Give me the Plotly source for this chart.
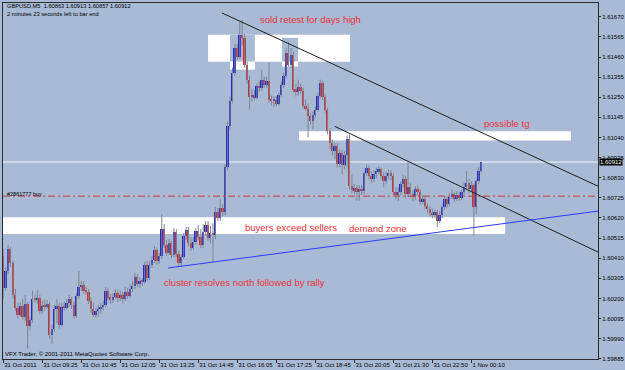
import plotly.graph_objects as go

# ---------------- data (GBPUSD M5, 31 Oct 2011) ----------------
first_open = 1.60422
closes = [
    1.60255, 1.60344, 1.60458, 1.60385, 1.60219, 1.60151, 1.60115, 1.60162, 1.60104, 1.60172,
    1.60058, 1.60089, 1.60198, 1.60193, 1.60203, 1.60136, 1.60162, 1.60156, 1.60172, 1.60011,
    1.60042, 1.60146, 1.60162, 1.60063, 1.60156, 1.60151, 1.60177, 1.60198, 1.60167, 1.60110,
    1.60214, 1.60260, 1.60271, 1.60240, 1.60234, 1.60188, 1.60146, 1.60115, 1.60136, 1.60146,
    1.60156, 1.60167, 1.60240, 1.60203, 1.60193, 1.60208, 1.60229, 1.60203, 1.60219, 1.60198,
    1.60234, 1.60214, 1.60250, 1.60266, 1.60312, 1.60276, 1.60292, 1.60286, 1.60375, 1.60307,
    1.60375, 1.60401, 1.60453, 1.60396, 1.60422, 1.60562, 1.60479, 1.60437, 1.60489, 1.60427,
    1.60546, 1.60432, 1.60385, 1.60416, 1.60526, 1.60557, 1.60489, 1.60463, 1.60494, 1.60552,
    1.60520, 1.60479, 1.60546, 1.60583, 1.60515, 1.60541, 1.60531, 1.60650, 1.60619, 1.60671,
    1.60650, 1.60884, 1.61098, 1.61233, 1.61378, 1.61508, 1.61462, 1.61576, 1.61560, 1.61420,
    1.61342, 1.61254, 1.61264, 1.61248, 1.61311, 1.61300, 1.61342, 1.61316, 1.61337, 1.61238,
    1.61233, 1.61238, 1.61217, 1.61264, 1.61316, 1.61363, 1.61482, 1.61420, 1.61472, 1.61290,
    1.61280, 1.61306, 1.61285, 1.61207, 1.61191, 1.61150, 1.61124, 1.61160, 1.61186, 1.61259,
    1.61326, 1.61254, 1.61181, 1.61072, 1.61009, 1.60968, 1.60994, 1.60900, 1.60957, 1.60895,
    1.60947, 1.61030, 1.60786, 1.60765, 1.60775, 1.60754, 1.60770, 1.60760, 1.60853, 1.60879,
    1.60838, 1.60822, 1.60848, 1.60864, 1.60874, 1.60838, 1.60812, 1.60838, 1.60853, 1.60838,
    1.60754, 1.60739, 1.60754, 1.60796, 1.60822, 1.60744, 1.60780, 1.60744, 1.60728, 1.60770,
    1.60754, 1.60702, 1.60718, 1.60682, 1.60666, 1.60645, 1.60635, 1.60650, 1.60604, 1.60635,
    1.60676, 1.60718, 1.60692, 1.60728, 1.60744, 1.60718, 1.60739, 1.60723, 1.60754, 1.60780,
    1.60801, 1.60770, 1.60791, 1.60676, 1.60812, 1.60863, 1.60912,
]
highs = [
    1.60458, 1.60364, 1.60479, 1.60468, 1.60396, 1.60250, 1.60177, 1.60182, 1.60198, 1.60219,
    1.60182, 1.60104, 1.60240, 1.60219, 1.60245, 1.60219, 1.60188, 1.60198, 1.60193, 1.60182,
    1.60063, 1.60167, 1.60198, 1.60177, 1.60177, 1.60182, 1.60198, 1.60219, 1.60208, 1.60182,
    1.60229, 1.60344, 1.60292, 1.60292, 1.60260, 1.60250, 1.60203, 1.60177, 1.60151, 1.60167,
    1.60177, 1.60188, 1.60260, 1.60255, 1.60224, 1.60229, 1.60250, 1.60245, 1.60240, 1.60234,
    1.60260, 1.60255, 1.60276, 1.60292, 1.60333, 1.60328, 1.60312, 1.60307, 1.60390, 1.60396,
    1.60396, 1.60422, 1.60474, 1.60468, 1.60437, 1.60640, 1.60588, 1.60505, 1.60510, 1.60500,
    1.60567, 1.60562, 1.60448, 1.60432, 1.60541, 1.60572, 1.60572, 1.60520, 1.60520, 1.60567,
    1.60583, 1.60562, 1.60588, 1.60604, 1.60604, 1.60578, 1.60593, 1.60676, 1.60671, 1.60718,
    1.60692, 1.60900, 1.61124, 1.61254, 1.61404, 1.61529, 1.61529, 1.61644, 1.61654, 1.61581,
    1.61436, 1.61363, 1.61290, 1.61290, 1.61321, 1.61332, 1.61394, 1.61358, 1.61358, 1.61430,
    1.61259, 1.61254, 1.61254, 1.61274, 1.61332, 1.61378, 1.61508, 1.61540, 1.61508, 1.61488,
    1.61321, 1.61342, 1.61321, 1.61300, 1.61238, 1.61217, 1.61170, 1.61176, 1.61202, 1.61274,
    1.61342, 1.61337, 1.61269, 1.61196, 1.61087, 1.61030, 1.61014, 1.61009, 1.60978, 1.60973,
    1.60968, 1.61051, 1.61056, 1.60848, 1.60796, 1.60791, 1.60791, 1.60791, 1.60864, 1.60900,
    1.60895, 1.60864, 1.60869, 1.60884, 1.60890, 1.60884, 1.60858, 1.60864, 1.60874, 1.60869,
    1.60853, 1.60780, 1.60780, 1.60812, 1.60843, 1.60838, 1.60910, 1.60801, 1.60765, 1.60786,
    1.60791, 1.60770, 1.60739, 1.60734, 1.60697, 1.60682, 1.60666, 1.60666, 1.60661, 1.60656,
    1.60692, 1.60734, 1.60734, 1.60749, 1.60770, 1.60754, 1.60760, 1.60760, 1.60770, 1.60806,
    1.60864, 1.60822, 1.60812, 1.60801, 1.60822, 1.60884, 1.60913,
]
lows = [
    1.60198, 1.60240, 1.60328, 1.60364, 1.60198, 1.60136, 1.60094, 1.60104, 1.60089, 1.60084,
    1.59938, 1.60032, 1.60073, 1.60177, 1.60172, 1.60115, 1.60120, 1.60136, 1.60146, 1.59990,
    1.59964, 1.60026, 1.60068, 1.60042, 1.60052, 1.60136, 1.60141, 1.60156, 1.60146, 1.60094,
    1.60099, 1.60198, 1.60240, 1.60224, 1.60219, 1.60172, 1.60125, 1.60104, 1.60099, 1.60104,
    1.60120, 1.60136, 1.60156, 1.60188, 1.60172, 1.60177, 1.60198, 1.60182, 1.60188, 1.60172,
    1.60188, 1.60198, 1.60203, 1.60234, 1.60250, 1.60260, 1.60255, 1.60266, 1.60276, 1.60292,
    1.60297, 1.60359, 1.60385, 1.60375, 1.60380, 1.60406, 1.60463, 1.60422, 1.60427, 1.60411,
    1.60416, 1.60416, 1.60370, 1.60364, 1.60406, 1.60505, 1.60474, 1.60448, 1.60453, 1.60479,
    1.60505, 1.60463, 1.60463, 1.60526, 1.60500, 1.60489, 1.60390, 1.60510, 1.60604, 1.60604,
    1.60630, 1.60635, 1.60869, 1.61077, 1.61217, 1.61363, 1.61446, 1.61451, 1.61519, 1.61404,
    1.61321, 1.61186, 1.61228, 1.61233, 1.61238, 1.61280, 1.61285, 1.61300, 1.61300, 1.61222,
    1.61207, 1.61202, 1.61202, 1.61207, 1.61254, 1.61300, 1.61352, 1.61410, 1.61404, 1.61274,
    1.61254, 1.61259, 1.61269, 1.61191, 1.61181, 1.61040, 1.61108, 1.61082, 1.61144, 1.61176,
    1.61248, 1.61238, 1.61170, 1.61056, 1.60978, 1.60947, 1.60926, 1.60884, 1.60884, 1.60848,
    1.60874, 1.60884, 1.60770, 1.60749, 1.60744, 1.60708, 1.60708, 1.60739, 1.60744, 1.60838,
    1.60822, 1.60801, 1.60806, 1.60827, 1.60848, 1.60822, 1.60780, 1.60796, 1.60822, 1.60817,
    1.60739, 1.60718, 1.60708, 1.60739, 1.60780, 1.60723, 1.60728, 1.60728, 1.60708, 1.60713,
    1.60739, 1.60687, 1.60692, 1.60666, 1.60645, 1.60630, 1.60619, 1.60619, 1.60572, 1.60593,
    1.60619, 1.60661, 1.60676, 1.60682, 1.60718, 1.60702, 1.60708, 1.60708, 1.60713, 1.60739,
    1.60765, 1.60749, 1.60754, 1.60526, 1.60640, 1.60796, 1.60857,
]
opens = [first_open] + closes[:-1]
bars = list(range(len(closes)))

x_tick_bars = [0, 16, 32, 48, 64, 80, 96, 112, 128, 144, 160, 176, 192]
x_tick_labels = ["31 Oct 2011", "31 Oct 09:25", "31 Oct 10:45", "31 Oct 12:05", "31 Oct 13:25",
                 "31 Oct 14:45", "31 Oct 16:05", "31 Oct 17:25", "31 Oct 18:45", "31 Oct 20:05",
                 "31 Oct 21:30", "31 Oct 22:50", "1 Nov 00:10"]
y_tick_vals = [1.61670, 1.61565, 1.61460, 1.61355, 1.61250, 1.61145, 1.61040, 1.60935, 1.60830,
               1.60725, 1.60620, 1.60515, 1.60410, 1.60305, 1.60200, 1.60095, 1.59990, 1.59885]

bid_price = 1.60912
buy_price = 1.60734
header = "GBPUSD,M5  1.60863 1.60913 1.60857 1.60912"

# ---------------- style ----------------
BG = "#A8BAD4"
BULL = "#2828C8"
BEAR = "#C83232"
WICK = "#7D8594"
TXT_RED = "#E8323C"
FONT = "Liberation Sans"

W, H = 625, 370
ML, MR, MT, MB = 3, 27, 3, 11
PW, PH = W - ML - MR, H - MT - MB


def px(x):
    return (x - ML) / PW


def py(y):
    return (H - MB - y) / PH


fig = go.Figure()

# wicks
wx, wy = [], []
for i, lo, hi in zip(bars, lows, highs):
    wx += [i, i, None]
    wy += [lo, hi, None]
fig.add_trace(go.Scatter(x=wx, y=wy, mode="lines", line=dict(color=WICK, width=1),
                         hoverinfo="skip", showlegend=False))

# bodies
fig.add_trace(go.Bar(
    x=bars, y=[c - o for o, c in zip(opens, closes)], base=opens, width=0.75,
    marker=dict(color=[BULL if c >= o else BEAR for o, c in zip(opens, closes)], line=dict(width=0)),
    showlegend=False, hoverinfo="skip"))

shapes = []


def rect(x0, x1, y0, y1, color):
    shapes.append(dict(type="rect", xref="x", yref="y", x0=x0, x1=x1, y0=y0, y1=y1,
                       fillcolor=color, line=dict(width=0), layer="below"))


# zones (overlaps of two rectangles show background, as in MetaTrader)
rect(84.0, 142.2, 1.61436, 1.61576, "white")
rect(93.0, 103.2, 1.61436, 1.61576, BG)
rect(93.0, 103.2, 1.61394, 1.61436, "white")
rect(114.3, 120.9, 1.61436, 1.61560, BG)
rect(114.3, 120.9, 1.61410, 1.61436, "white")
rect(121.3, 232.8, 1.61025, 1.61072, "white")
rect(-0.1, 205.8, 1.60536, 1.60624, "white")

# horizontal lines
shapes.append(dict(type="line", xref="paper", yref="y", x0=0, x1=1, y0=bid_price, y1=bid_price,
                   line=dict(color="#F4F6FA", width=1), layer="below"))
shapes.append(dict(type="line", xref="paper", yref="y", x0=0, x1=1, y0=buy_price, y1=buy_price,
                   line=dict(color="#D03838", width=1, dash="7px,3px,2px,3px"), layer="above"))
# trend lines
shapes.append(dict(type="line", xref="x", yref="y", x0=89.7, y0=1.61690, x1=243.9, y1=1.60786,
                   line=dict(color="#1E1E1E", width=1), layer="above"))
shapes.append(dict(type="line", xref="x", yref="y", x0=136.0, y0=1.61098, x1=243.9, y1=1.60442,
                   line=dict(color="#1E1E1E", width=1), layer="above"))
shapes.append(dict(type="line", xref="x", yref="y", x0=67.6, y0=1.60359, x1=243.9, y1=1.60656,
                   line=dict(color="#2A3CFF", width=1), layer="above"))

annotations = []


def label(text, x, y, size, color, **kw):
    annotations.append(dict(text=text, x=px(x), y=py(y), xref="paper", yref="paper",
                            xanchor="left", yanchor="middle", showarrow=False,
                            font=dict(family=FONT, size=size, color=color), **kw))


label(header, 5, 6, 5.7, "black")
label("2 minutes 23 seconds left to bar end", 5, 14, 5.7, "black")
label("VFX Trader, \u00a9 2001-2011 MetaQuotes Software Corp.", 3, 354, 6, "black")
label("#2861777 buy", 5, 194, 5.5, "black")
label("sold retest for days high", 258, 20, 9.5, TXT_RED)
label("possible tg", 482, 123, 9.5, TXT_RED)
label("buyers exceed sellers", 243, 227, 9.5, TXT_RED)
label("demand zone", 347, 228, 9.5, TXT_RED)
label("cluster resolves north followed by rally", 162, 282, 9.5, TXT_RED)

# current bid label on the price scale
annotations.append(dict(text="1.60912", x=1, xref="paper", y=bid_price, yref="y",
                        xanchor="left", yanchor="middle", xshift=1, showarrow=False,
                        bgcolor="black", borderpad=0,
                        font=dict(family=FONT, size=6, color="white")))

fig.update_layout(
    width=W, height=H,
    margin=dict(l=ML, r=MR, t=MT, b=MB, pad=0, autoexpand=False),
    paper_bgcolor=BG, plot_bgcolor=BG,
    shapes=shapes, annotations=annotations,
    showlegend=False, bargap=0,
    font=dict(family=FONT, size=6, color="black"),
)
fig.update_xaxes(range=[-0.1, 243.9], showgrid=False, zeroline=False, automargin=False,
                 showline=True, linecolor="#2B2B2B", linewidth=1, mirror=True,
                 tickmode="array", tickvals=x_tick_bars, ticktext=x_tick_labels,
                 ticks="outside", ticklen=3, tickcolor="#2B2B2B", tickangle=0,
                 ticklabelposition="outside right",
                 tickfont=dict(family=FONT, size=6, color="black"))
fig.update_yaxes(range=[1.59884, 1.61742], side="right", showgrid=False, zeroline=False,
                 automargin=False,
                 showline=True, linecolor="#2B2B2B", linewidth=1, mirror=True,
                 tickmode="array", tickvals=y_tick_vals,
                 ticktext=[f"{v:.5f}" for v in y_tick_vals],
                 ticks="outside", ticklen=2, tickcolor="#2B2B2B",
                 tickfont=dict(family=FONT, size=6, color="black"))

fig.write_html("out.html")
